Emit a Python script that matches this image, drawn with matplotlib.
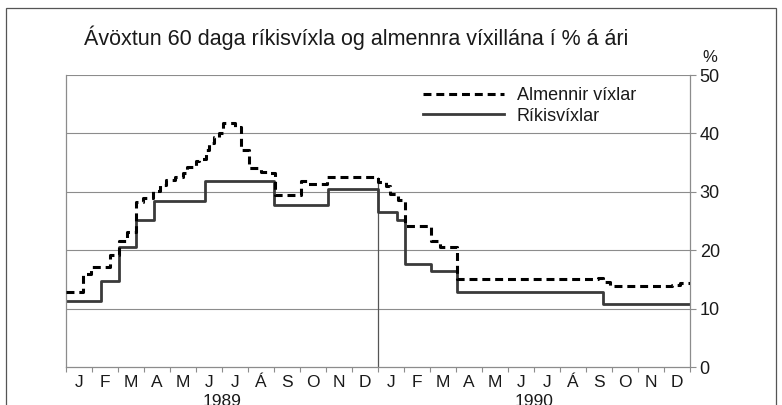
import matplotlib
matplotlib.use('Agg')
import matplotlib.pyplot as plt
from matplotlib.patches import Rectangle

plt.rcParams['font.family'] = ['Liberation Sans', 'DejaVu Sans']

# month labels and years on the x-axis
months = ['J', 'F', 'M', 'A', 'M', 'J', 'J', 'Á', 'S', 'O', 'N', 'D']
years = ['1989', '1990']
y_ticks = [0, 10, 20, 30, 40, 50]

# Almennir víxlar (step starts, in months from Jan 1989)
alm_x = [0.0, 0.67, 0.95, 1.71, 2.04, 2.33, 2.70, 2.95, 3.35, 3.60, 3.85, 4.20,
         4.50, 4.67, 5.00, 5.10, 5.37, 5.50, 5.70, 5.90, 6.02, 6.50, 6.72, 7.05,
         7.50, 7.75, 8.03, 9.04, 9.30, 10.04, 12.00, 12.30, 12.45, 12.75, 13.02,
         14.02, 14.37, 15.05, 20.45, 20.66, 20.94, 23.30, 23.60, 24.0]
alm_y = [12.8, 16.0, 17.2, 19.2, 21.6, 23.2, 28.2, 29.0, 30.2, 31.2, 32.0, 32.6,
         33.3, 34.3, 35.2, 35.7, 37.2, 38.3, 39.4, 40.0, 41.7, 41.1, 37.2, 34.1,
         33.4, 33.2, 29.5, 31.8, 31.4, 32.6, 31.6, 31.0, 29.7, 28.6, 24.1,
         21.5, 20.6, 15.0, 15.2, 14.5, 13.9, 14.1, 14.4, 14.5]

# Ríkisvíxlar
rik_x = [0.0, 1.36, 2.04, 2.70, 3.38, 5.35, 8.01, 10.06, 11.99, 12.72, 13.02,
         14.02, 15.04, 20.66, 24.0]
rik_y = [11.35, 14.8, 20.6, 25.2, 28.5, 31.8, 27.7, 30.5, 26.5, 25.2, 17.6,
         16.5, 12.9, 10.8, 10.8]

grid_c = '#8c8c8c'
txt_c = '#1a1a1a'

fig = plt.figure(figsize=(7.82, 4.05), dpi=100)
fig.patches.append(Rectangle((6 / 782, -0.05), 770 / 782, 1.05 - 8 / 405,
                             transform=fig.transFigure, fill=False,
                             edgecolor='#555555', linewidth=0.9))

ax = fig.add_axes([66 / 782, 38 / 405, 624 / 782, 292 / 405])

ax.set_xlim(0, 24)
ax.set_ylim(0, 50)

for v in y_ticks[1:]:
    ax.axhline(v, color=grid_c, linewidth=0.8, zorder=1)

# year divider
ax.vlines(12, 0, alm_y[alm_x.index(10.04)], color='#555555', linewidth=0.9, zorder=1)

ax.step(alm_x, alm_y, where='post', color='black', linewidth=2.2,
        dashes=(2.6, 1.6), label='Almennir víxlar', zorder=3)
ax.step(rik_x, rik_y, where='post', color='#3a3a3a', linewidth=2.0,
        label='Ríkisvíxlar', zorder=2)

for s in ['left', 'right', 'bottom']:
    ax.spines[s].set_color(grid_c)
    ax.spines[s].set_linewidth(0.9)
ax.spines['top'].set_visible(False)

ax.yaxis.tick_right()
ax.set_yticks(y_ticks)
ax.tick_params(axis='y', which='major', length=4, width=0.8, color=grid_c,
               labelsize=13, pad=3, labelcolor=txt_c)

ax.set_xticks(range(0, 25))
ax.set_xticklabels([])
ax.tick_params(axis='x', which='major', length=3.5, width=0.8, color=grid_c)
ax.set_xticks([m + 0.5 for m in range(24)], minor=True)
ax.set_xticklabels(months * 2, minor=True)
ax.tick_params(axis='x', which='minor', length=0, labelsize=12.5, pad=6,
               labelcolor=txt_c)

for i, yr in enumerate(years):
    ax.text(6 + 12 * i, -0.094, yr, transform=ax.get_xaxis_transform(),
            ha='center', va='top', fontsize=12.5, color=txt_c)

ax.text(1.02, 1.035, '%', transform=ax.transAxes, ha='left', va='bottom',
        fontsize=12, color=txt_c)

leg = ax.legend(loc='upper left', bbox_to_anchor=(0.546, 1.014), frameon=False,
                fontsize=13, handlelength=4.5, handletextpad=0.7,
                labelspacing=0.2, labelcolor=txt_c)

fig.text(356 / 782, 1 - 38 / 405, 'Ávöxtun 60 daga ríkisvíxla og almennra víxillána í % á ári',
         ha='center', va='center', fontsize=15.5, color=txt_c)

fig.savefig('out.png', dpi=100)
